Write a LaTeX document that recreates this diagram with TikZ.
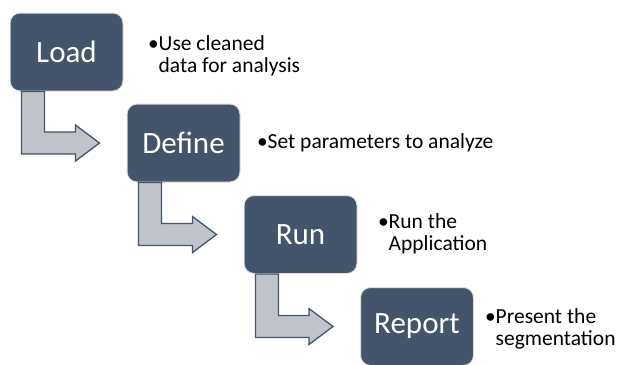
\documentclass[tikz,border=0pt]{standalone}
\usepackage{fontspec}
\setmainfont{Carlito}
\newlength{\du}
\setlength{\du}{1pt}

\begin{document}
\begin{tikzpicture}[
  stagebox/.style={rectangle, rounded corners=10\du, fill=stagefill, draw=black!12,
    line width=1\du, minimum width=113\du, minimum height=78\du, inner sep=0pt,
    text=white, font=\fontsize{31}{35}\selectfont},
  bentarrow/.style={fill=arrowfill, draw=stagefill, line width=1.3\du, line join=miter},
  bullettext/.style={anchor=base west, align=left, inner sep=0pt, outer sep=0pt,
    text=black, font=\fontsize{21.5}{22}\selectfont}]
\definecolor{stagefill}{rgb}{0.266667, 0.329412, 0.415686}
\definecolor{arrowfill}{rgb}{0.752941, 0.768627, 0.792157}
\useasboundingbox (0\du,0\du) rectangle (617\du,-364\du);
% stages
\node[stagebox] (load) at (66.500000\du,-52.000000\du){Load};
\node[stagebox] (define) at (183.500000\du,-143.000000\du){Define};
\node[stagebox] (run) at (300.500000\du,-234.500000\du){Run};
\node[stagebox] (report) at (417.000000\du,-326.500000\du){Report};
% bent arrows
\coordinate (loadtip) at ([xshift=-27\du]define.west);
\draw[bentarrow] ([xshift=12\du]load.south west) |- ([xshift=-24\du,yshift=-11\du]loadtip)
  -- ++(0,-7\du) -- (loadtip) -- ([xshift=-24\du,yshift=18\du]loadtip) -- ++(0,-7\du)
  -| ([xshift=35\du]load.south west) -- cycle;
\coordinate (definetip) at ([xshift=-27\du]run.west);
\draw[bentarrow] ([xshift=12\du]define.south west) |- ([xshift=-24\du,yshift=-11\du]definetip)
  -- ++(0,-7\du) -- (definetip) -- ([xshift=-24\du,yshift=18\du]definetip) -- ++(0,-7\du)
  -| ([xshift=35\du]define.south west) -- cycle;
\coordinate (runtip) at ([xshift=-27\du]report.west);
\draw[bentarrow] ([xshift=12\du]run.south west) |- ([xshift=-24\du,yshift=-11\du]runtip)
  -- ++(0,-7\du) -- (runtip) -- ([xshift=-24\du,yshift=18\du]runtip) -- ++(0,-7\du)
  -| ([xshift=35\du]run.south west) -- cycle;
% notes (base = last line)
\node[bullettext] (loadnote) at (148.000000\du,-72.000000\du){\textbullet Use cleaned\\\phantom{\textbullet}data for analysis};
\node[bullettext] (definenote) at (257.000000\du,-148.000000\du){\textbullet Set parameters to analyze};
\node[bullettext] (runnote) at (378.000000\du,-250.000000\du){\textbullet Run the\\\phantom{\textbullet}Application};
\node[bullettext] (reportnote) at (485.000000\du,-345.000000\du){\textbullet Present the\\\phantom{\textbullet}segmentation};
\end{tikzpicture}
\end{document}
